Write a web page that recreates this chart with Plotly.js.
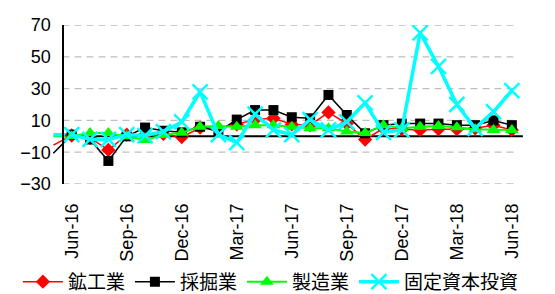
<!DOCTYPE html>
<html>
<head>
<meta charset="utf-8">
<script src="https://cdn.plot.ly/plotly-3.0.1.min.js"></script>
<style>html,body{margin:0;padding:0;background:#fff;}#chart{width:555px;height:294px;}</style>
</head>
<body>
<div id="chart"></div>
<script>
// Months (first entry only feeds the line segment entering from the left edge)
var months = ['May-16','Jun-16','Jul-16','Aug-16','Sep-16','Oct-16','Nov-16','Dec-16','Jan-17','Feb-17','Mar-17','Apr-17','May-17','Jun-17','Jul-17','Aug-17','Sep-17','Oct-17','Nov-17','Dec-17','Jan-18','Feb-18','Mar-18','Apr-18','May-18','Jun-18'];
var tickLabels = ['Jun-16','Sep-16','Dec-16','Mar-17','Jun-17','Sep-17','Dec-17','Mar-18','Jun-18'];
var yTicks = [-30, -10, 10, 30, 50, 70];

var seriesNames = ['鉱工業', '採掘業', '製造業', '固定資本投資'];
var mining_industry = [-5.5, 0.5, -1, -8.6, 1, 1, 1.5, -0.5, 5.4, 5, 7.5, 10.5, 11.3, 7.5, 7, 15, 8, -2, 5, 4.5, 4, 4.5, 4.5, 5, 7, 4];
var mining = [-10.7, 1, -2, -15.5, 0, 5.5, 3.5, 2.5, 6, 3, 10.5, 16.5, 16.5, 12, 11.3, 26, 13.4, 1.9, 7, 8, 8, 8, 7, 7, 10, 7];
var manufacturing = [0, 0, 2, 2, 0, -2.3, 0.8, 2.3, 6, 6.5, 6, 7, 7, 6, 5, 5, 3, 2, 7, 5, 6, 6.5, 5.7, 4.4, 4, 4];
var fixed_capital = [1, 1, -2, -2, 1, 0.5, 3, 9, 28, 1, -4, 14, 4, 1, 10.5, 4, 9, 21, 2.5, 4, 65, 44, 20, 5, 15.5, 28.7];

var FONT = 'Liberation Sans, Arial, Noto Sans CJK JP, sans-serif';

var styles = [
  {color: '#FF0000', symbol: 'diamond', size: 11, lw: 1.5},
  {color: '#000000', symbol: 'square', size: 10, lw: 1.5},
  {color: '#00FF00', symbol: 'triangle-up', size: 12, lw: 2},
  {color: '#00FFFF', symbol: 'x-thin-open', size: 15, lw: 3.5}
];
var allSeries = [mining_industry, mining, manufacturing, fixed_capital];

var traces = [];
// lead-in segments (no markers)
allSeries.forEach(function (vals, k) {
  traces.push({
    x: months.slice(0, 2), y: vals.slice(0, 2), type: 'scatter', mode: 'lines',
    line: {color: styles[k].color, width: styles[k].lw}, showlegend: false, hoverinfo: 'skip'
  });
});
allSeries.forEach(function (vals, k) {
  var s = styles[k];
  var mk = {symbol: s.symbol, size: s.size, color: s.color};
  if (s.symbol === 'x-thin-open') mk.line = {color: s.color, width: 2.5};
  traces.push({
    x: months.slice(1), y: vals.slice(1), type: 'scatter', mode: 'lines+markers',
    name: seriesNames[k], line: {color: s.color, width: s.lw}, marker: mk
  });
});

var axisPos = 0.0203;
var shapes = yTicks.map(function (v) {
  return {type: 'line', xref: 'paper', yref: 'y', x0: axisPos, x1: 0.991, y0: v, y1: v,
          line: {color: '#BFBFBF', width: 1.3, dash: '7px,5px'}, layer: 'below'};
});
shapes.push({type: 'line', xref: 'paper', yref: 'y', x0: axisPos, x1: 1.004, y0: 0, y1: 0,
             line: {color: '#000000', width: 2}, layer: 'below'});

var layout = {
  width: 555, height: 294,
  margin: {l: 53, r: 34, t: 25, b: 110, pad: 0, autoexpand: false},
  paper_bgcolor: '#ffffff', plot_bgcolor: '#ffffff',
  font: {family: FONT, color: '#000000', size: 18},
  showlegend: true,
  xaxis: {
    type: 'category', categoryorder: 'array', categoryarray: months,
    range: [-0.02, 25.5], showgrid: false, zeroline: false, showline: false,
    tickmode: 'array', tickvals: tickLabels, ticktext: tickLabels,
    tickangle: -90, ticks: '', ticklabelstandoff: 15, automargin: false,
    tickfont: {family: FONT, size: 18, color: '#000000'}
  },
  yaxis: {
    range: [-30, 70], tickmode: 'array', tickvals: yTicks,
    showgrid: false, zeroline: false, showline: true, linecolor: '#000000', linewidth: 2,
    anchor: 'free', position: axisPos, ticks: '', ticklabelstandoff: 7, automargin: false,
    tickfont: {family: FONT, size: 18, color: '#000000'}
  },
  legend: {
    orientation: 'h', x: -0.075, xanchor: 'left', y: -0.615, yanchor: 'middle',
    font: {family: FONT, size: 19, color: '#000000'}, bgcolor: 'rgba(0,0,0,0)',
    itemwidth: 40, tracegroupgap: 0
  },
  shapes: shapes
};

Plotly.newPlot('chart', traces, layout, {displayModeBar: false, staticPlot: true});
</script>
</body>
</html>
